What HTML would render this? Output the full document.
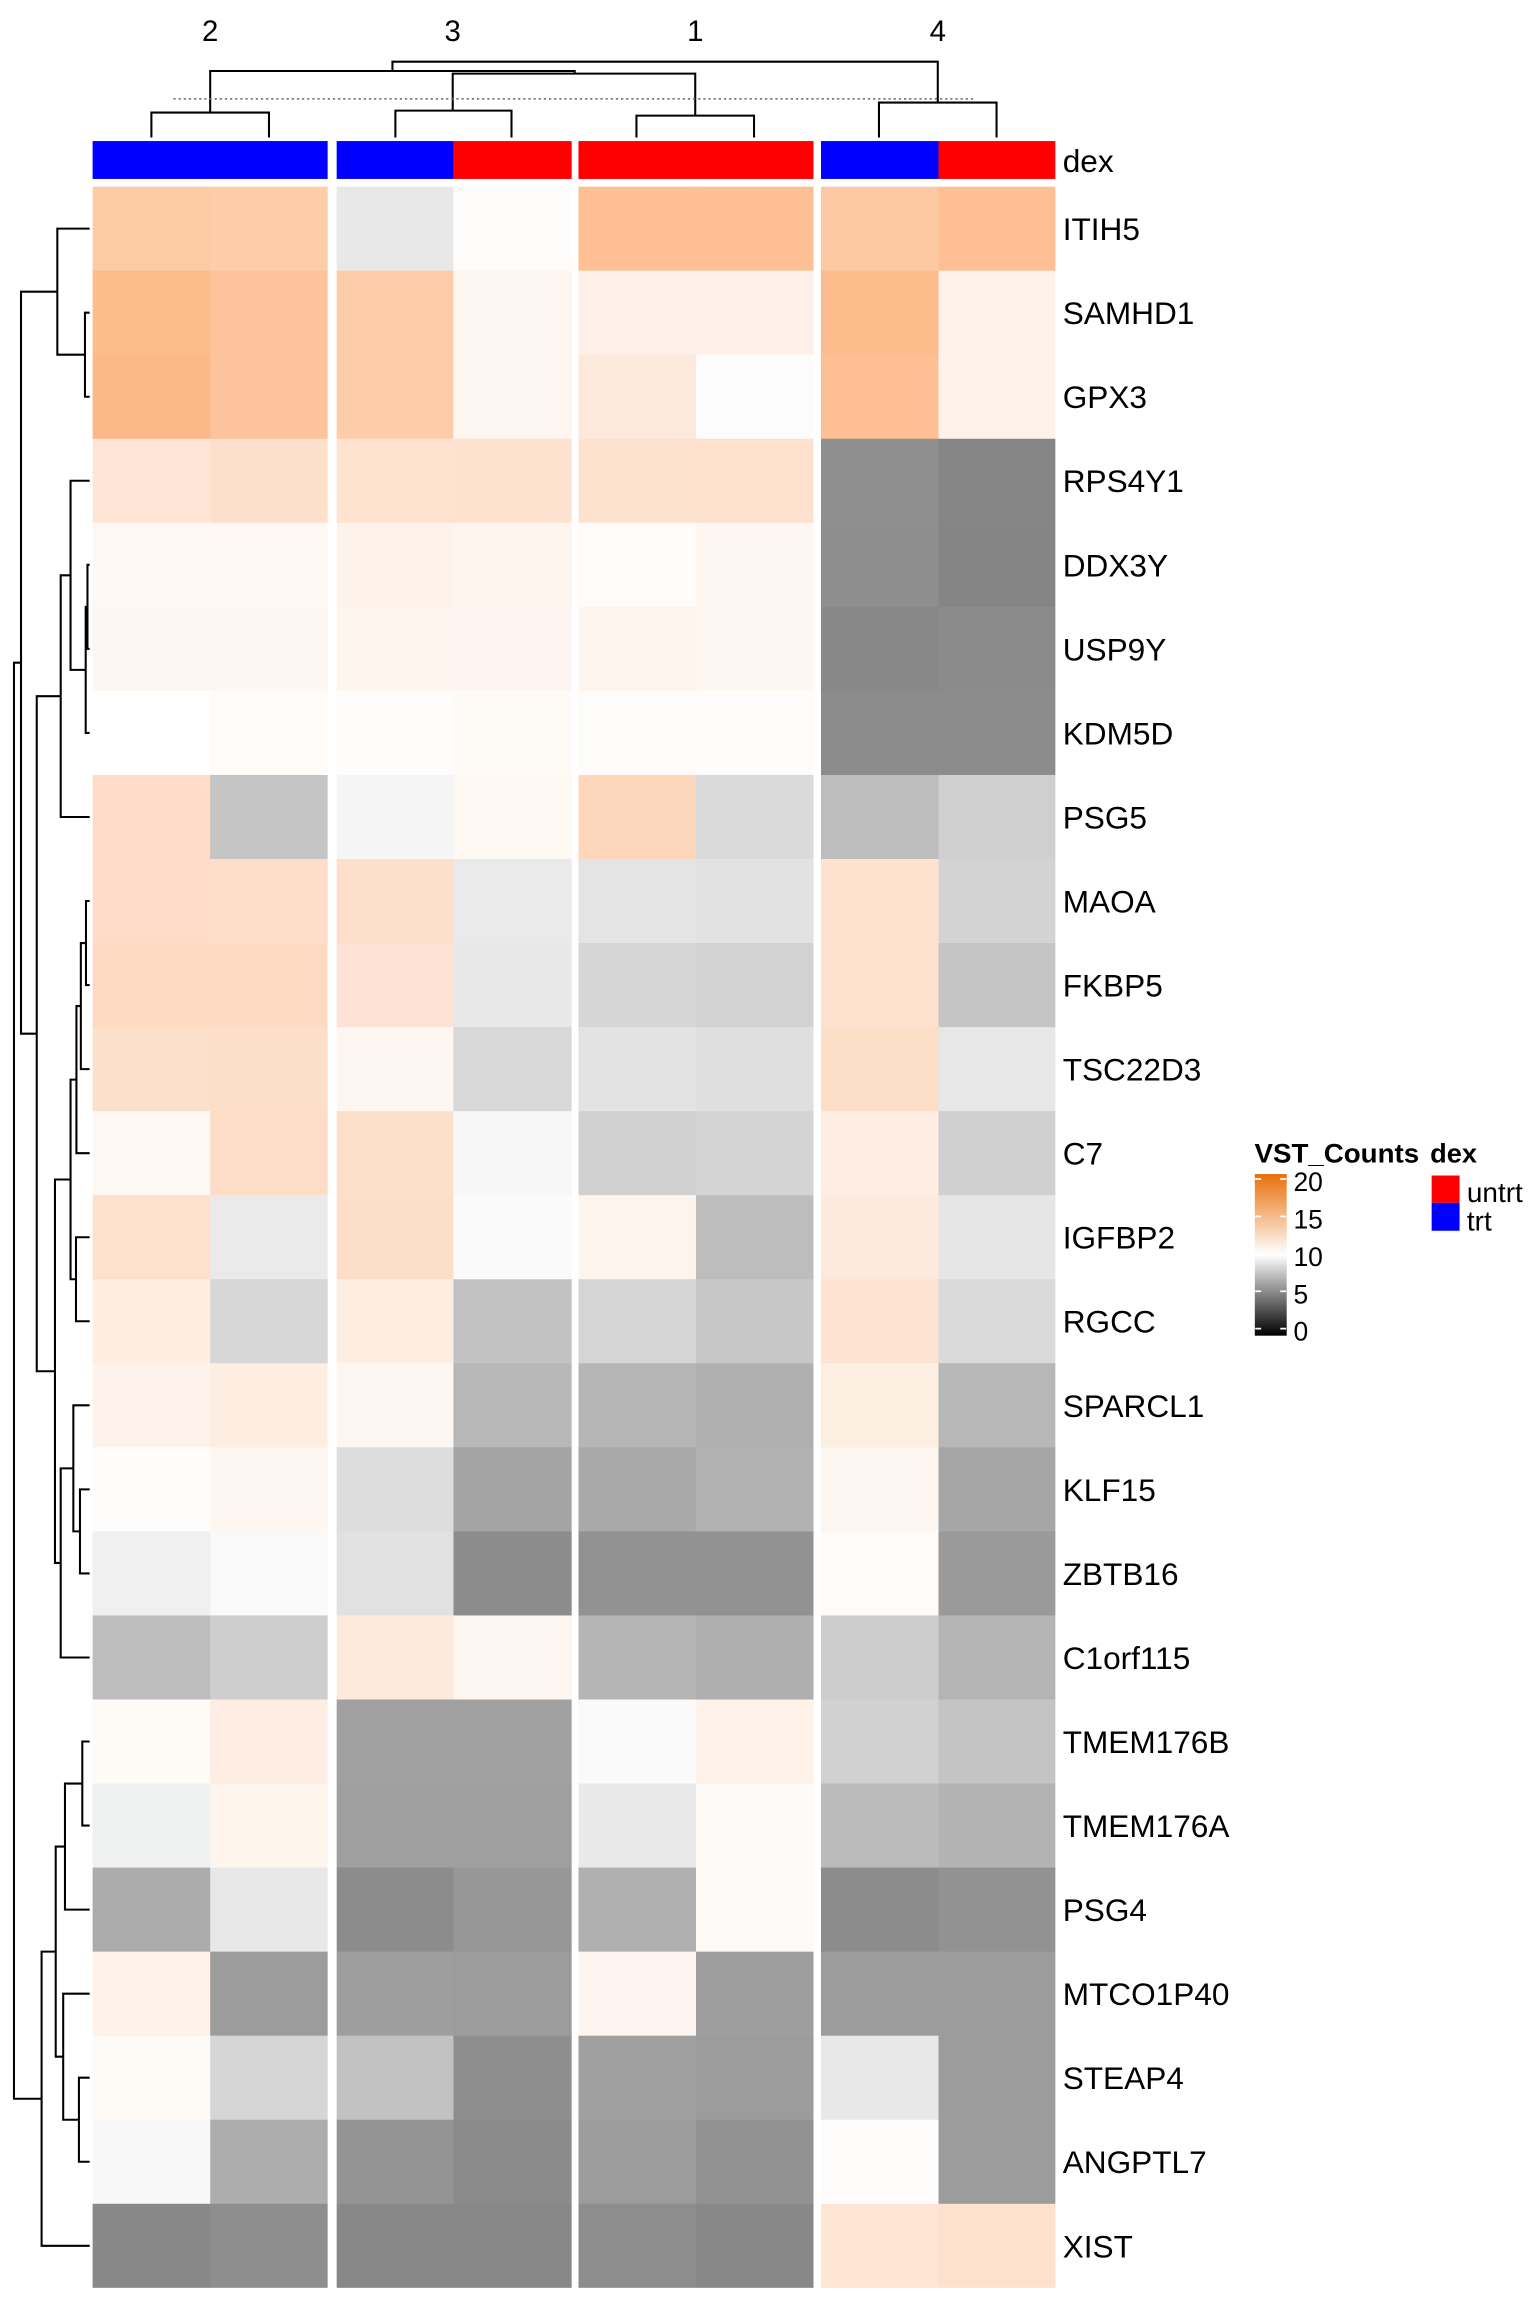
<!DOCTYPE html>
<html><head><meta charset="utf-8"><style>
html,body{margin:0;padding:0;background:#fff;}
svg{display:block;}
text{font-family:"Liberation Sans",Arial,sans-serif;fill:#000;}
</style></head><body>
<svg width="1536" height="2304" viewBox="0 0 1045 1568" preserveAspectRatio="none" xmlns="http://www.w3.org/2000/svg">
<defs>
<linearGradient id="g" x1="0" y1="1" x2="0" y2="0">
<stop offset="0" stop-color="#000"/>
<stop offset="0.5" stop-color="#fff"/>
<stop offset="1" stop-color="#e8700a"/>
</linearGradient>
</defs>
<rect width="1045" height="1568" fill="#fff"/>
<g font-size="20" text-anchor="middle">
<text x="143" y="28">2</text><text x="308" y="28">3</text><text x="473" y="28">1</text><text x="638" y="28">4</text>
</g>
<g fill="none" stroke="#000" stroke-width="1.4">
<path d="M103 93.6V76.6H183V93.6"/>
<path d="M269 93.6V75.3H348V93.6"/>
<path d="M433 93.6V78.7H513V93.6"/>
<path d="M598 93.6V69.8H678V93.6"/>
<path d="M308 75.3V50.1H473V78.7"/>
<path d="M143 76.6V48.3H391V50.1"/>
<path d="M267 48.3V42H638V69.8"/>
</g>
<path d="M118 67.3H664" stroke="#666" stroke-width="1" stroke-dasharray="1.5,2" fill="none"/>
<g>
<rect x="63" y="96" width="160" height="25.8" fill="#0000ff"/>
<rect x="229" y="96" width="79.5" height="25.8" fill="#0000ff"/>
<rect x="308.5" y="96" width="80.5" height="25.8" fill="#ff0000"/>
<rect x="393.5" y="96" width="160" height="25.8" fill="#ff0000"/>
<rect x="558.5" y="96" width="80" height="25.8" fill="#0000ff"/>
<rect x="638.5" y="96" width="79.5" height="25.8" fill="#ff0000"/>
</g>
<text x="723" y="117" font-size="21.5">dex</text>
<g id="heat">
<g transform="translate(0,127)"><rect x="63" width="80.5" height="57.5" fill="#fdcaa6"/><rect x="143" width="80" height="57.5" fill="#fdcca8"/><rect x="229" width="80" height="57.5" fill="#e8e8e8"/><rect x="308.5" width="80.5" height="57.5" fill="#fefcfa"/><rect x="393.5" width="80.5" height="57.5" fill="#fdbf93"/><rect x="473.5" width="80" height="57.5" fill="#fdbf93"/><rect x="558.5" width="80.5" height="57.5" fill="#fdc9a5"/><rect x="638.5" width="79.5" height="57.5" fill="#fdbf93"/></g>
<g transform="translate(0,184.2)"><rect x="63" width="80.5" height="57.5" fill="#fdbc8c"/><rect x="143" width="80" height="57.5" fill="#fdc49c"/><rect x="229" width="80" height="57.5" fill="#fdcca8"/><rect x="308.5" width="80.5" height="57.5" fill="#fef6f0"/><rect x="393.5" width="80.5" height="57.5" fill="#fef0e8"/><rect x="473.5" width="80" height="57.5" fill="#fef0e9"/><rect x="558.5" width="80.5" height="57.5" fill="#fdbc8c"/><rect x="638.5" width="79.5" height="57.5" fill="#fef2ea"/></g>
<g transform="translate(0,241.4)"><rect x="63" width="80.5" height="57.5" fill="#fdb88a"/><rect x="143" width="80" height="57.5" fill="#fdc39c"/><rect x="229" width="80" height="57.5" fill="#fdcca8"/><rect x="308.5" width="80.5" height="57.5" fill="#fef6f0"/><rect x="393.5" width="80.5" height="57.5" fill="#fde8dc"/><rect x="473.5" width="80" height="57.5" fill="#fcfcfc"/><rect x="558.5" width="80.5" height="57.5" fill="#fdbf93"/><rect x="638.5" width="79.5" height="57.5" fill="#fef2ea"/></g>
<g transform="translate(0,298.6)"><rect x="63" width="80.5" height="57.5" fill="#fee5d6"/><rect x="143" width="80" height="57.5" fill="#fde0cc"/><rect x="229" width="80" height="57.5" fill="#fee3d1"/><rect x="308.5" width="80.5" height="57.5" fill="#fde2cf"/><rect x="393.5" width="80.5" height="57.5" fill="#fee2d0"/><rect x="473.5" width="80" height="57.5" fill="#fee1cd"/><rect x="558.5" width="80.5" height="57.5" fill="#8f8f8f"/><rect x="638.5" width="79.5" height="57.5" fill="#868686"/></g>
<g transform="translate(0,355.8)"><rect x="63" width="80.5" height="57.5" fill="#fef8f2"/><rect x="143" width="80" height="57.5" fill="#fef8f2"/><rect x="229" width="80" height="57.5" fill="#fef3ea"/><rect x="308.5" width="80.5" height="57.5" fill="#fef5ef"/><rect x="393.5" width="80.5" height="57.5" fill="#fefbf8"/><rect x="473.5" width="80" height="57.5" fill="#fef6f0"/><rect x="558.5" width="80.5" height="57.5" fill="#8e8e8e"/><rect x="638.5" width="79.5" height="57.5" fill="#858585"/></g>
<g transform="translate(0,413)"><rect x="63" width="80.5" height="57.5" fill="#fef6f1"/><rect x="143" width="80" height="57.5" fill="#fef6f1"/><rect x="229" width="80" height="57.5" fill="#fef5ef"/><rect x="308.5" width="80.5" height="57.5" fill="#fef5f3"/><rect x="393.5" width="80.5" height="57.5" fill="#fef5ef"/><rect x="473.5" width="80" height="57.5" fill="#fef7f1"/><rect x="558.5" width="80.5" height="57.5" fill="#888888"/><rect x="638.5" width="79.5" height="57.5" fill="#8b8b8b"/></g>
<g transform="translate(0,470.2)"><rect x="63" width="80.5" height="57.5" fill="#ffffff"/><rect x="143" width="80" height="57.5" fill="#fefbf8"/><rect x="229" width="80" height="57.5" fill="#fefdfb"/><rect x="308.5" width="80.5" height="57.5" fill="#fefaf6"/><rect x="393.5" width="80.5" height="57.5" fill="#fefcfa"/><rect x="473.5" width="80" height="57.5" fill="#fefcfa"/><rect x="558.5" width="80.5" height="57.5" fill="#8c8c8c"/><rect x="638.5" width="79.5" height="57.5" fill="#8c8c8c"/></g>
<g transform="translate(0,527.4)"><rect x="63" width="80.5" height="57.5" fill="#fedcc6"/><rect x="143" width="80" height="57.5" fill="#c5c5c5"/><rect x="229" width="80" height="57.5" fill="#f5f5f5"/><rect x="308.5" width="80.5" height="57.5" fill="#fef8f3"/><rect x="393.5" width="80.5" height="57.5" fill="#fdd7bb"/><rect x="473.5" width="80" height="57.5" fill="#dadada"/><rect x="558.5" width="80.5" height="57.5" fill="#bdbdbd"/><rect x="638.5" width="79.5" height="57.5" fill="#cfcfcf"/></g>
<g transform="translate(0,584.6)"><rect x="63" width="80.5" height="57.5" fill="#fedcc6"/><rect x="143" width="80" height="57.5" fill="#fedec9"/><rect x="229" width="80" height="57.5" fill="#fedfcb"/><rect x="308.5" width="80.5" height="57.5" fill="#eaeaea"/><rect x="393.5" width="80.5" height="57.5" fill="#e4e4e4"/><rect x="473.5" width="80" height="57.5" fill="#e2e2e2"/><rect x="558.5" width="80.5" height="57.5" fill="#fee1cf"/><rect x="638.5" width="79.5" height="57.5" fill="#d3d3d3"/></g>
<g transform="translate(0,641.8)"><rect x="63" width="80.5" height="57.5" fill="#fddac2"/><rect x="143" width="80" height="57.5" fill="#fddbc3"/><rect x="229" width="80" height="57.5" fill="#fee2d5"/><rect x="308.5" width="80.5" height="57.5" fill="#e8e8e8"/><rect x="393.5" width="80.5" height="57.5" fill="#d6d6d6"/><rect x="473.5" width="80" height="57.5" fill="#d2d2d2"/><rect x="558.5" width="80.5" height="57.5" fill="#fee0ce"/><rect x="638.5" width="79.5" height="57.5" fill="#c5c5c5"/></g>
<g transform="translate(0,699)"><rect x="63" width="80.5" height="57.5" fill="#fde0cc"/><rect x="143" width="80" height="57.5" fill="#fddec9"/><rect x="229" width="80" height="57.5" fill="#fef6f1"/><rect x="308.5" width="80.5" height="57.5" fill="#d8d8d8"/><rect x="393.5" width="80.5" height="57.5" fill="#e3e3e3"/><rect x="473.5" width="80" height="57.5" fill="#dfdfdf"/><rect x="558.5" width="80.5" height="57.5" fill="#fddec6"/><rect x="638.5" width="79.5" height="57.5" fill="#e7e7e7"/></g>
<g transform="translate(0,756.2)"><rect x="63" width="80.5" height="57.5" fill="#fef8f3"/><rect x="143" width="80" height="57.5" fill="#fdddc6"/><rect x="229" width="80" height="57.5" fill="#fde0ca"/><rect x="308.5" width="80.5" height="57.5" fill="#f7f7f7"/><rect x="393.5" width="80.5" height="57.5" fill="#d1d1d1"/><rect x="473.5" width="80" height="57.5" fill="#d4d4d4"/><rect x="558.5" width="80.5" height="57.5" fill="#feede2"/><rect x="638.5" width="79.5" height="57.5" fill="#d0d0d0"/></g>
<g transform="translate(0,813.4)"><rect x="63" width="80.5" height="57.5" fill="#fee0cc"/><rect x="143" width="80" height="57.5" fill="#eaeaea"/><rect x="229" width="80" height="57.5" fill="#fddec8"/><rect x="308.5" width="80.5" height="57.5" fill="#fafafa"/><rect x="393.5" width="80.5" height="57.5" fill="#fef4ee"/><rect x="473.5" width="80" height="57.5" fill="#bdbdbd"/><rect x="558.5" width="80.5" height="57.5" fill="#fee9dd"/><rect x="638.5" width="79.5" height="57.5" fill="#e6e6e6"/></g>
<g transform="translate(0,870.6)"><rect x="63" width="80.5" height="57.5" fill="#feeee2"/><rect x="143" width="80" height="57.5" fill="#d7d7d7"/><rect x="229" width="80" height="57.5" fill="#feeee2"/><rect x="308.5" width="80.5" height="57.5" fill="#c2c2c2"/><rect x="393.5" width="80.5" height="57.5" fill="#d5d5d5"/><rect x="473.5" width="80" height="57.5" fill="#c7c7c7"/><rect x="558.5" width="80.5" height="57.5" fill="#fee3d3"/><rect x="638.5" width="79.5" height="57.5" fill="#dadada"/></g>
<g transform="translate(0,927.8)"><rect x="63" width="80.5" height="57.5" fill="#fef3ec"/><rect x="143" width="80" height="57.5" fill="#feeee2"/><rect x="229" width="80" height="57.5" fill="#fef6f1"/><rect x="308.5" width="80.5" height="57.5" fill="#b7b7b7"/><rect x="393.5" width="80.5" height="57.5" fill="#b6b6b6"/><rect x="473.5" width="80" height="57.5" fill="#b0b0b0"/><rect x="558.5" width="80.5" height="57.5" fill="#feefe3"/><rect x="638.5" width="79.5" height="57.5" fill="#b7b7b7"/></g>
<g transform="translate(0,985)"><rect x="63" width="80.5" height="57.5" fill="#fefdfb"/><rect x="143" width="80" height="57.5" fill="#fef6f1"/><rect x="229" width="80" height="57.5" fill="#dddddd"/><rect x="308.5" width="80.5" height="57.5" fill="#a4a4a4"/><rect x="393.5" width="80.5" height="57.5" fill="#a9a9a9"/><rect x="473.5" width="80" height="57.5" fill="#b2b2b2"/><rect x="558.5" width="80.5" height="57.5" fill="#fef6f1"/><rect x="638.5" width="79.5" height="57.5" fill="#a6a6a6"/></g>
<g transform="translate(0,1042.2)"><rect x="63" width="80.5" height="57.5" fill="#f0f0f0"/><rect x="143" width="80" height="57.5" fill="#f9f9f9"/><rect x="229" width="80" height="57.5" fill="#e1e1e1"/><rect x="308.5" width="80.5" height="57.5" fill="#8c8c8c"/><rect x="393.5" width="80.5" height="57.5" fill="#929292"/><rect x="473.5" width="80" height="57.5" fill="#929292"/><rect x="558.5" width="80.5" height="57.5" fill="#fefbf8"/><rect x="638.5" width="79.5" height="57.5" fill="#9a9a9a"/></g>
<g transform="translate(0,1099.4)"><rect x="63" width="80.5" height="57.5" fill="#bdbdbd"/><rect x="143" width="80" height="57.5" fill="#cecece"/><rect x="229" width="80" height="57.5" fill="#feeadc"/><rect x="308.5" width="80.5" height="57.5" fill="#fef6f1"/><rect x="393.5" width="80.5" height="57.5" fill="#b5b5b5"/><rect x="473.5" width="80" height="57.5" fill="#afafaf"/><rect x="558.5" width="80.5" height="57.5" fill="#cdcdcd"/><rect x="638.5" width="79.5" height="57.5" fill="#b4b4b4"/></g>
<g transform="translate(0,1156.6)"><rect x="63" width="80.5" height="57.5" fill="#fefbf7"/><rect x="143" width="80" height="57.5" fill="#feede2"/><rect x="229" width="80" height="57.5" fill="#a1a1a1"/><rect x="308.5" width="80.5" height="57.5" fill="#a1a1a1"/><rect x="393.5" width="80.5" height="57.5" fill="#fafafa"/><rect x="473.5" width="80" height="57.5" fill="#fef2e9"/><rect x="558.5" width="80.5" height="57.5" fill="#d1d1d1"/><rect x="638.5" width="79.5" height="57.5" fill="#c4c4c4"/></g>
<g transform="translate(0,1213.8)"><rect x="63" width="80.5" height="57.5" fill="#eff0f0"/><rect x="143" width="80" height="57.5" fill="#fef5ed"/><rect x="229" width="80" height="57.5" fill="#9f9f9f"/><rect x="308.5" width="80.5" height="57.5" fill="#9f9f9f"/><rect x="393.5" width="80.5" height="57.5" fill="#e9e9e9"/><rect x="473.5" width="80" height="57.5" fill="#fefaf7"/><rect x="558.5" width="80.5" height="57.5" fill="#bbbbbb"/><rect x="638.5" width="79.5" height="57.5" fill="#b3b3b3"/></g>
<g transform="translate(0,1271)"><rect x="63" width="80.5" height="57.5" fill="#acacac"/><rect x="143" width="80" height="57.5" fill="#e8e8e8"/><rect x="229" width="80" height="57.5" fill="#8c8c8c"/><rect x="308.5" width="80.5" height="57.5" fill="#979797"/><rect x="393.5" width="80.5" height="57.5" fill="#b0b0b0"/><rect x="473.5" width="80" height="57.5" fill="#fefaf7"/><rect x="558.5" width="80.5" height="57.5" fill="#8c8c8c"/><rect x="638.5" width="79.5" height="57.5" fill="#929292"/></g>
<g transform="translate(0,1328.2)"><rect x="63" width="80.5" height="57.5" fill="#fef2ea"/><rect x="143" width="80" height="57.5" fill="#9c9c9c"/><rect x="229" width="80" height="57.5" fill="#9e9e9e"/><rect x="308.5" width="80.5" height="57.5" fill="#9c9c9c"/><rect x="393.5" width="80.5" height="57.5" fill="#fef4f0"/><rect x="473.5" width="80" height="57.5" fill="#9e9e9e"/><rect x="558.5" width="80.5" height="57.5" fill="#9c9c9c"/><rect x="638.5" width="79.5" height="57.5" fill="#9c9c9c"/></g>
<g transform="translate(0,1385.4)"><rect x="63" width="80.5" height="57.5" fill="#fefbf6"/><rect x="143" width="80" height="57.5" fill="#d6d6d6"/><rect x="229" width="80" height="57.5" fill="#c2c2c2"/><rect x="308.5" width="80.5" height="57.5" fill="#8e8e8e"/><rect x="393.5" width="80.5" height="57.5" fill="#a0a0a0"/><rect x="473.5" width="80" height="57.5" fill="#9c9c9c"/><rect x="558.5" width="80.5" height="57.5" fill="#e8e8e8"/><rect x="638.5" width="79.5" height="57.5" fill="#9c9c9c"/></g>
<g transform="translate(0,1442.6)"><rect x="63" width="80.5" height="57.5" fill="#f8f8f8"/><rect x="143" width="80" height="57.5" fill="#adadad"/><rect x="229" width="80" height="57.5" fill="#949494"/><rect x="308.5" width="80.5" height="57.5" fill="#8b8b8b"/><rect x="393.5" width="80.5" height="57.5" fill="#9c9c9c"/><rect x="473.5" width="80" height="57.5" fill="#929292"/><rect x="558.5" width="80.5" height="57.5" fill="#fefcfa"/><rect x="638.5" width="79.5" height="57.5" fill="#9c9c9c"/></g>
<g transform="translate(0,1499.8)"><rect x="63" width="80.5" height="57.2" fill="#888888"/><rect x="143" width="80" height="57.2" fill="#8e8e8e"/><rect x="229" width="80" height="57.2" fill="#888888"/><rect x="308.5" width="80.5" height="57.2" fill="#888888"/><rect x="393.5" width="80.5" height="57.2" fill="#8d8d8d"/><rect x="473.5" width="80" height="57.2" fill="#888888"/><rect x="558.5" width="80.5" height="57.2" fill="#fee5d4"/><rect x="638.5" width="79.5" height="57.2" fill="#fde1cc"/></g>
</g>
<g fill="#fff">
<rect x="223" y="96" width="6" height="1462"/>
<rect x="389" y="96" width="4.5" height="1462"/>
<rect x="553.5" y="96" width="5" height="1462"/>
<rect x="63" y="121.8" width="656" height="5.2"/>
</g>
<g fill="none" stroke="#000" stroke-width="1.4">
<path d="M61 212.8H57.8V270H61"/>
<path d="M61 155.6H39V241.4H57.8"/>
<path d="M61 384.4H59.5V441.6H61"/>
<path d="M59.5 413H58.3V498.8H61"/>
<path d="M61 327.2H48V455.9H58.3"/>
<path d="M48 391.55H41.3V556H61"/>
<path d="M61 613.2H58.5V670.4H61"/>
<path d="M58.5 641.8H55V727.6H61"/>
<path d="M55 684.7H52V784.8H61"/>
<path d="M61 842H51.7V899.2H61"/>
<path d="M52 734.75H48V870.6H51.7"/>
<path d="M61 1013.6H54.4V1070.8H61"/>
<path d="M61 956.4H49.9V1042.2H54.4"/>
<path d="M49.9 999.3H41.3V1128H61"/>
<path d="M48 802.7H37.4V1063.65H41.3"/>
<path d="M41.3 473.8H25V933.2H37.4"/>
<path d="M39 198.5H14.3V703.5H25"/>
<path d="M61 1185.2H56V1242.4H61"/>
<path d="M56 1213.8H44.2V1299.6H61"/>
<path d="M61 1414H53.7V1471.2H61"/>
<path d="M61 1356.8H43V1442.6H53.7"/>
<path d="M44.2 1256.7H37.9V1399.7H43"/>
<path d="M37.9 1328.2H28.3V1528.4H61"/>
<path d="M14.3 451H9.5V1428.3H28.3"/>
</g>
<g font-size="21.5">
<text x="723" y="163.4">ITIH5</text>
<text x="723" y="220.6">SAMHD1</text>
<text x="723" y="277.8">GPX3</text>
<text x="723" y="335">RPS4Y1</text>
<text x="723" y="392.2">DDX3Y</text>
<text x="723" y="449.4">USP9Y</text>
<text x="723" y="506.6">KDM5D</text>
<text x="723" y="563.8">PSG5</text>
<text x="723" y="621">MAOA</text>
<text x="723" y="678.2">FKBP5</text>
<text x="723" y="735.4">TSC22D3</text>
<text x="723" y="792.6">C7</text>
<text x="723" y="849.8">IGFBP2</text>
<text x="723" y="907">RGCC</text>
<text x="723" y="964.2">SPARCL1</text>
<text x="723" y="1021.4">KLF15</text>
<text x="723" y="1078.6">ZBTB16</text>
<text x="723" y="1135.8">C1orf115</text>
<text x="723" y="1193">TMEM176B</text>
<text x="723" y="1250.2">TMEM176A</text>
<text x="723" y="1307.4">PSG4</text>
<text x="723" y="1364.6">MTCO1P40</text>
<text x="723" y="1421.8">STEAP4</text>
<text x="723" y="1479">ANGPTL7</text>
<text x="723" y="1536.2">XIST</text>
</g>
<text x="853.5" y="791" font-size="18.5" font-weight="bold" textLength="112" lengthAdjust="spacingAndGlyphs">VST_Counts</text>
<text x="973" y="791" font-size="18.5" font-weight="bold">dex</text>
<rect x="853.7" y="799" width="21.7" height="110" fill="url(#g)"/>
<g stroke="#fff" stroke-width="1.2">
<path d="M854 802.4h4M871 802.4h4M854 827.9h4M871 827.9h4M854 853.3h4M871 853.3h4M854 878.8h4M871 878.8h4M854 904.2h4M871 904.2h4"/>
</g>
<g font-size="18">
<text x="880" y="810.5">20</text>
<text x="880" y="836">15</text>
<text x="880" y="861.5">10</text>
<text x="880" y="887">5</text>
<text x="880" y="912.3">0</text>
</g>
<rect x="974" y="800" width="19" height="18.6" fill="#ff0000"/>
<rect x="974" y="818.6" width="19" height="19" fill="#0000ff"/>
<text x="998" y="818" font-size="19">untrt</text>
<text x="998" y="837.5" font-size="19">trt</text>
</svg>
</body></html>
